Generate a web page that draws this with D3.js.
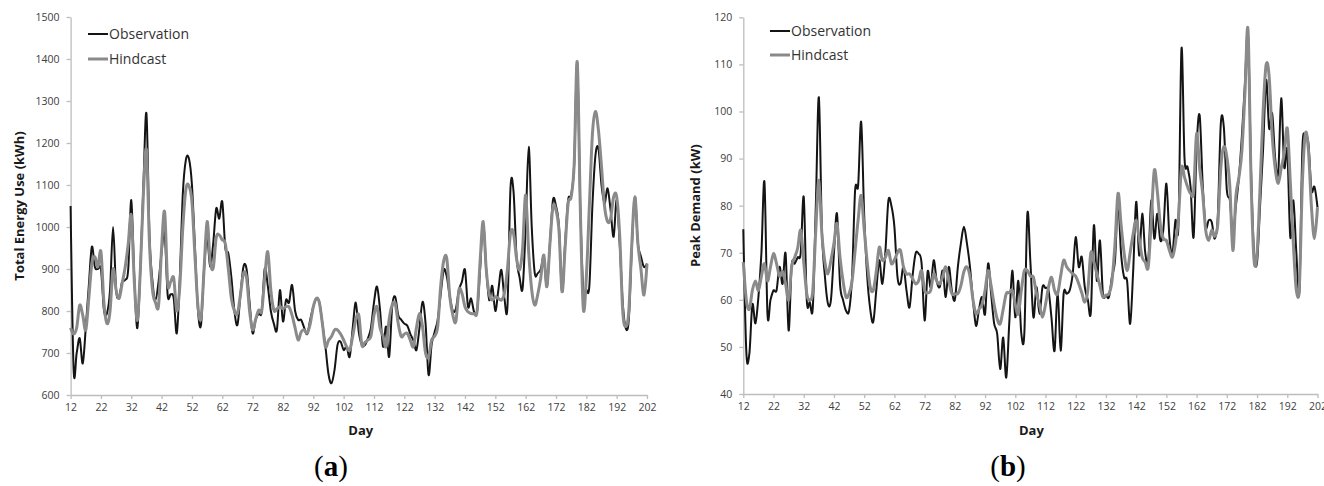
<!DOCTYPE html>
<html>
<head>
<meta charset="utf-8">
<script src="https://cdn.jsdelivr.net/npm/d3@7.9.0/dist/d3.min.js"></script>
<style>
  html, body { margin: 0; padding: 0; background: #fff; }
  svg { display: block; }
  .tick text { font-family: "Open Sans", sans-serif; font-size: 10.5px; fill: #404040; }
  .axis-title { font-family: "Open Sans", sans-serif; font-size: 13px; font-weight: bold; fill: #1a1a1a; }
  .legend text { font-family: "Open Sans", sans-serif; font-size: 14px; fill: #333; }
  .panel-label { font-family: "Liberation Serif", "Times New Roman", serif; font-size: 29px; fill: #000; }
</style>
</head>
<body>
<svg id="chart" width="1324" height="486"></svg>
<script>
// first day shown on both charts; one value per day after that
const firstDay = 12;
const dayTicks = [12, 22, 32, 42, 52, 62, 72, 82, 92, 102, 112, 122, 132, 142, 152, 162, 172, 182, 192, 202];
const seriesNames = ['Observation', 'Hindcast'];

// (a) Total Energy Use (kWh), days 12..202
const energyObs = [
  1050, 660, 700, 735, 675, 760, 860, 953, 905, 900,
  900, 802, 795, 850, 1000, 850, 834, 870, 874, 900,
  1064, 880, 759, 900, 1100, 1270, 980, 870, 826, 870,
  940, 985, 838, 840, 830, 747, 880, 1080, 1160, 1163,
  1100, 950, 800, 767, 900, 975, 906, 960, 1044, 1020,
  1060, 950, 937, 880, 800, 767, 840, 906, 900, 820,
  747, 780, 794, 798, 901, 860, 800, 770, 755, 850,
  775, 826, 820, 862, 800, 779, 779, 760, 745, 780,
  810, 830, 820, 770, 715, 650, 628, 660, 720, 727,
  707, 715, 691, 760, 820, 750, 720, 719, 735, 760,
  820, 858, 802, 715, 763, 691, 810, 834, 790, 779,
  770, 765, 745, 730, 707, 760, 822, 771, 648, 720,
  750, 779, 840, 898, 882, 834, 800, 805, 850, 870,
  898, 810, 830, 798, 800, 900, 1013, 900, 826, 860,
  800, 850, 898, 830, 810, 1092, 1085, 929, 880, 854,
  1000, 1191, 1001, 890, 890, 900, 929, 858, 960, 1064,
  1050, 1000, 846, 960, 1064, 1076, 1150, 1390, 1050, 850,
  850, 860, 1050, 1170, 1187, 1100, 1056, 1092, 1040, 977,
  1064, 960, 820, 759, 780, 950, 1072, 961, 930, 905,
  913
];
const energyHind = [
  760, 745, 760, 814, 790, 755, 830, 913, 929, 905,
  941, 818, 770, 800, 900, 850, 830, 866, 905, 960,
  1028, 870, 778, 900, 1080, 1183, 960, 850, 820, 814,
  950, 1036, 866, 870, 878, 800, 860, 1000, 1090, 1098,
  1060, 930, 810, 783, 900, 1013, 920, 902, 975, 981,
  969, 960, 900, 830, 800, 794, 840, 890, 880, 800,
  755, 780, 802, 800, 880, 941, 850, 802, 805, 810,
  806, 810, 810, 790, 760, 731, 750, 755, 747, 770,
  810, 830, 820, 770, 715, 730, 739, 755, 755, 745,
  731, 715, 707, 740, 779, 790, 719, 725, 731, 740,
  790, 810, 760, 740, 715, 780, 814, 818, 770, 739,
  745, 747, 730, 715, 760, 794, 763, 700, 691, 731,
  740, 763, 860, 920, 925, 834, 790, 775, 850, 842,
  810, 798, 794, 794, 800, 920, 1013, 900, 840, 826,
  834, 830, 826, 842, 900, 985, 985, 925, 898, 950,
  1076, 940, 850, 814, 840, 880, 933, 858, 960, 1048,
  1040, 990, 846, 950, 1056, 1072, 1150, 1393, 1050, 806,
  880, 1050, 1220, 1275, 1230, 1144, 1050, 1013, 1020, 1072,
  1072, 980, 800, 763, 800, 960, 1072, 961, 900, 838,
  913
];
const energyTicks = [600, 700, 800, 900, 1000, 1100, 1200, 1300, 1400, 1500];

// (b) Peak Demand (kW), days 12..202
const peakObs = [
  75, 49, 48.5, 59, 55, 60.6, 70, 85, 57, 60,
  62, 62, 67, 63.4, 69.8, 53.5, 67.3, 67.7, 69, 70,
  81.8, 60, 59.5, 58.4, 80, 103, 75, 65, 59.2, 60,
  70, 78.3, 63.4, 60, 57.7, 57.7, 65, 83.3, 84.3, 97.8,
  78, 65, 58, 55.3, 62, 68.4, 63.4, 70, 81, 80,
  75.5, 65, 63.4, 67, 62, 58.4, 65, 69.8, 69.8, 67.7,
  55.6, 66, 62.7, 68.4, 64, 62.7, 66.2, 60.6, 67, 62,
  60, 67, 72, 75.5, 72, 67, 60, 54.5, 58, 60.6,
  57, 67.7, 61.3, 55, 52.8, 45.3, 52, 43.5, 55, 66.2,
  56.3, 64, 52.8, 53, 78.3, 68, 56.3, 62.7, 57, 62.7,
  62.5, 62, 56, 49.2, 62, 49.2, 61.3, 61.3, 62, 65.5,
  73.3, 67, 69.1, 62.7, 60, 57.4, 75.8, 64, 72.6, 61.3,
  61, 60.6, 65, 68.4, 80.8, 69.8, 64.8, 64, 54.9, 66,
  80.8, 69.4, 78.3, 70, 68.4, 81.1, 73, 78.3, 72.6, 75,
  84.7, 73.3, 69.8, 76.9, 76, 113.4, 90, 88.2, 84, 73.3,
  92.5, 99.2, 84.7, 75.5, 76.9, 76.5, 73, 77.6, 97.4, 96.7,
  83.3, 81.1, 74, 80, 86, 95, 106, 116.6, 88, 70,
  68, 80, 92, 106.7, 96.4, 99.6, 90, 86.8, 102.8, 88.2,
  91.8, 73.3, 81.1, 70, 61.6, 92.1, 94.6, 93.2, 83.3, 84,
  79.7
];
const peakHind = [
  68, 60, 58, 62, 64, 62, 65, 67.7, 64, 67,
  69.8, 67.7, 65, 66, 63.4, 60, 67, 69, 71, 74.8,
  68, 61.3, 60, 62, 75, 85.4, 74, 68, 65.5, 68.4,
  72, 76.2, 69, 64, 60.6, 61.3, 64, 70.5, 77, 82.2,
  75, 68, 62.7, 62, 66, 71.2, 68.4, 69, 70.5, 67.7,
  68.5, 70, 70.5, 67, 65.5, 65.5, 64.5, 63.4, 64, 66.2,
  62, 61.5, 62, 65.5, 64, 63.4, 65, 67, 64, 61.3,
  61.3, 61.3, 63, 66, 67, 65, 60, 57, 58, 59,
  62, 66.2, 63, 59, 56, 54.9, 58, 61.3, 61.5, 62,
  59, 57, 62, 66.2, 66.2, 65, 64.8, 61.3, 59, 56.3,
  59, 62.7, 64.8, 62, 61.3, 65, 68.4, 67, 66.2, 65.5,
  65, 63.4, 61.5, 59.5, 62, 70, 68, 65.5, 63, 60.6,
  61, 61.3, 64, 72, 82.6, 76, 70, 66.2, 70, 74,
  76.9, 73, 69, 68, 67, 77, 87.5, 83, 76, 73,
  72.6, 70.5, 69.1, 72, 77.6, 88, 86, 84, 82.6, 83,
  95.3, 88, 82.6, 74.8, 72.6, 74.8, 73.5, 76, 88, 92.5,
  90.4, 84, 70.5, 82, 86, 91.8, 104, 117.4, 86, 68.5,
  70, 84, 100, 109.9, 107.4, 95, 88, 84.7, 88, 91.1,
  96.4, 85, 72, 62, 63, 85, 95.3, 91.8, 79.7, 73,
  79.7
];
const peakTicks = [40, 50, 60, 70, 80, 90, 100, 110, 120];

const svg = d3.select('#chart');

function drawPanel(opts) {
    const { left, right, top, bottom, domain, ticks, obs, hind, yTitle, titleX, legendX, legendY, label, labelX } = opts;

    const x = d3.scaleLinear().domain([firstDay, firstDay + obs.length - 1]).range([left, right]);
    const y = d3.scaleLinear().domain(domain).range([bottom, top]);

    const g = svg.append('g');

    // x axis
    g.append('g')
        .attr('transform', `translate(0, ${bottom})`)
        .call(d3.axisBottom(x).tickValues(dayTicks).tickFormat(d3.format('d'))
            .tickSize(4).tickSizeOuter(0).tickPadding(5));
    // y axis, plain numbers (no thousands separator)
    g.append('g')
        .attr('transform', `translate(${left}, 0)`)
        .call(d3.axisLeft(y).tickValues(ticks).tickFormat(d3.format('d'))
            .tickSize(4).tickSizeOuter(0).tickPadding(7));
    g.selectAll('.domain').attr('stroke', '#bdbdbd').attr('stroke-width', 1.3);
    g.selectAll('.tick line').attr('stroke', '#bdbdbd').attr('stroke-width', 1.3);

    // the two series, smoothed like the spreadsheet lines
    const line = d3.line()
        .x((d, i) => x(firstDay + i))
        .y((d) => y(d))
        .curve(d3.curveCardinal.tension(0));

    g.append('path').datum(obs)
        .attr('fill', 'none').attr('stroke', '#141414').attr('stroke-width', 2)
        .attr('d', line);
    g.append('path').datum(hind)
        .attr('fill', 'none').attr('stroke', '#8a8a8a').attr('stroke-width', 3)
        .attr('stroke-linejoin', 'round')
        .attr('d', line);

    // axis titles
    g.append('text').attr('class', 'axis-title')
        .attr('x', (left + right) / 2 + opts.dayOffset).attr('y', 435)
        .attr('text-anchor', 'middle').text('Day');
    g.append('text').attr('class', 'axis-title')
        .attr('transform', `translate(${titleX}, ${(top + bottom) / 2}) rotate(-90)`)
        .attr('text-anchor', 'middle').attr('dy', '0.35em').text(yTitle);

    // legend
    const legend = g.append('g').attr('class', 'legend');
    const colors = ['#141414', '#8a8a8a'];
    const widths = [2, 3];
    seriesNames.forEach((name, i) => {
        const ly = legendY[i];
        legend.append('line')
            .attr('x1', legendX).attr('x2', legendX + 20)
            .attr('y1', ly).attr('y2', ly)
            .attr('stroke', colors[i]).attr('stroke-width', widths[i]);
        legend.append('text')
            .attr('x', legendX + 21).attr('y', ly).attr('dy', '0.35em')
            .text(name);
    });

    // panel letter
    const lab = g.append('text').attr('class', 'panel-label')
        .attr('x', labelX).attr('y', 476).attr('text-anchor', 'middle');
    lab.append('tspan').text('(');
    lab.append('tspan').attr('font-weight', 'bold').text(label);
    lab.append('tspan').text(')');
}

drawPanel({
    left: 70.6, right: 647, top: 17, bottom: 395,
    domain: [600, 1500], ticks: energyTicks,
    obs: energyObs, hind: energyHind,
    yTitle: 'Total Energy Use (kWh)', titleX: 19,
    legendX: 88, legendY: [34, 59],
    label: 'a', labelX: 331, dayOffset: 2
});

drawPanel({
    left: 743.3, right: 1317.5, top: 17.3, bottom: 394,
    domain: [40, 120], ticks: peakTicks,
    obs: peakObs, hind: peakHind,
    yTitle: 'Peak Demand (kW)', titleX: 695,
    legendX: 770, legendY: [31, 55],
    label: 'b', labelX: 1008, dayOffset: 1
});
</script>
</body>
</html>
